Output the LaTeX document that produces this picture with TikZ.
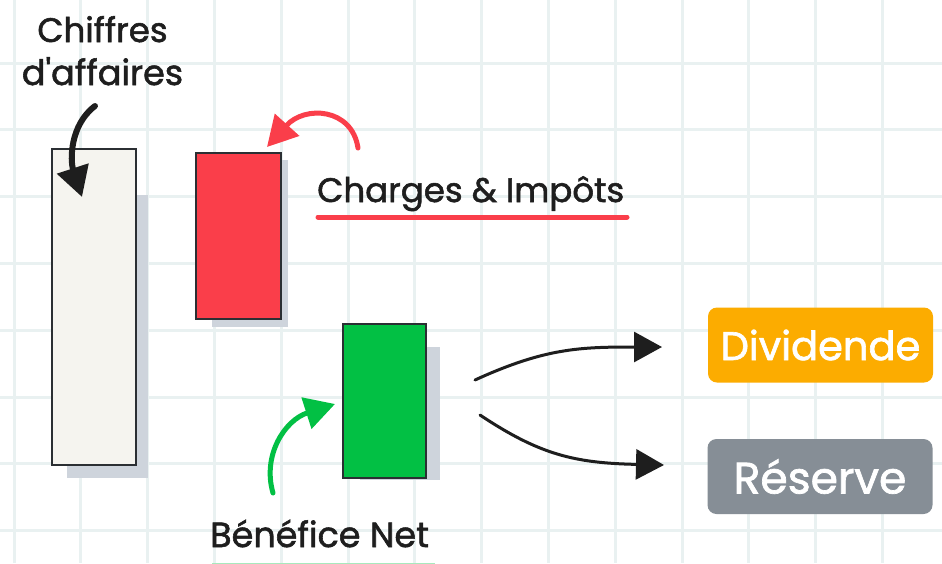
\documentclass[tikz,border=0pt]{standalone}
\usepackage{fontspec}
\setmainfont{Poppins}
\newfontfamily\handfont{Poppins}[BoldFont=Poppins, BoldFeatures={FakeBold=1.6}]
\usetikzlibrary{arrows.meta,positioning}
\definecolor{gridline}{HTML}{E9F1F1}
\definecolor{ink}{HTML}{1E1E1E}
\definecolor{barink}{HTML}{2B2F33}
\definecolor{cafill}{HTML}{F5F4EF}
\definecolor{shadowgray}{HTML}{CED4DC}
\definecolor{chargered}{HTML}{FA3E4A}
\definecolor{netgreen}{HTML}{02C044}
\definecolor{divorange}{HTML}{FCAC00}
\definecolor{resgray}{HTML}{868E96}
\newcommand\GridStep{66.8}
\tikzset{
  bar/.style={
    draw = barink,
    line width = 2.4pt,
    anchor = north west,
    inner sep = 0pt
  },
  hand/.style={
    font = \handfont\bfseries\fontsize{34}{38}\selectfont,
    text = ink,
    inner sep = 0pt,
    anchor = base
  },
  tag/.style={
    rounded corners = 9pt,
    text = white,
    minimum width = 225pt,
    minimum height = 75pt,
    font = \handfont\bfseries\fontsize{40}{48}\selectfont
  },
  sketch/.style={
    line cap = round,
    -{Triangle[length=30pt,width=32pt]}
  }
}

\begin{document}
\begin{tikzpicture}[x=1pt,y=-1pt]
    \clip (0,0) rectangle (942,563);
    \fill[white] (0,0) rectangle (942,563);
    \foreach \i in {0,...,13}
        \draw[gridline, line width=3pt] (14+\i*\GridStep,0) --++ (0,563);
    \foreach \j in {0,...,7}
        \draw[gridline, line width=3pt] (0,63+\j*\GridStep) --++ (942,0);

    % bars and their shadows
    \fill[shadowgray] (67,195) rectangle (148,478);
    \fill[shadowgray] (212,160) rectangle (288,327);
    \fill[shadowgray] (360,347) rectangle (440,480);
    \node[bar, fill=cafill, minimum width=84pt, minimum height=316pt] (ca) at (51,148) {};
    \node[bar, fill=chargered, minimum width=85pt, minimum height=166pt] (charges) at (195,152) {};
    \node[bar, fill=netgreen, minimum width=83pt, minimum height=154pt] (net) at (342,323) {};

    % labels
    \node[hand] (caTop) at (102.5,42) {Chiffres};
    \node[hand, font=\handfont\bfseries\fontsize{35}{38}\selectfont] (caBottom) at (102.5,85) {d'affaires};
    \node[hand, anchor=base west] (chargesLabel) at (317,202) {Charges \& Impôts};
    \draw[chargered, line width=5pt, line cap=round] (318,217) -- (627,217);
    \node[hand, anchor=base west, font=\handfont\bfseries\fontsize{35}{38}\selectfont] (netLabel) at (210,547) {Bénéfice Net};
    \draw[netgreen!35, line width=6pt] (212,566) -- (435,566);

    \node[tag, fill=divorange] (dividende) at (820.5,345) {Dividende};
    \node[tag, fill=resgray, font=\handfont\bfseries\fontsize{44}{50}\selectfont] (reserve) at (820,476.5) {Réserve};

    % arrows
    \coordinate (caTail) at (95,106);
    \coordinate (caTip) at (82,197);
    \coordinate (chTail) at (358,148);
    \coordinate (chTip) at (267,147);
    \coordinate (netTail) at (273,493);
    \coordinate (netTip) at (335,404);
    \coordinate (divTail) at (475,380);
    \coordinate (divTip) at (662,347);
    \coordinate (resTail) at (480,415);
    \coordinate (resTip) at (664,465);

    \draw[sketch, ink, line width=6pt] (caTail) .. controls (70,125) and (70,160) .. (caTip);
    \draw[sketch, chargered, line width=5pt] (chTail) .. controls (352,108) and (305,105) .. (chTip);
    \draw[sketch, netgreen, line width=5pt] (netTail) .. controls (262,455) and (285,420) .. (netTip);
    \draw[sketch, ink, line width=3pt, -{Triangle[length=28pt,width=30pt]}] (divTail) .. controls (545,348) and (580,347) .. (divTip);
    \draw[sketch, ink, line width=3pt, -{Triangle[length=28pt,width=30pt]}] (resTail) .. controls (540,455) and (575,463) .. (resTip);
\end{tikzpicture}
\end{document}
